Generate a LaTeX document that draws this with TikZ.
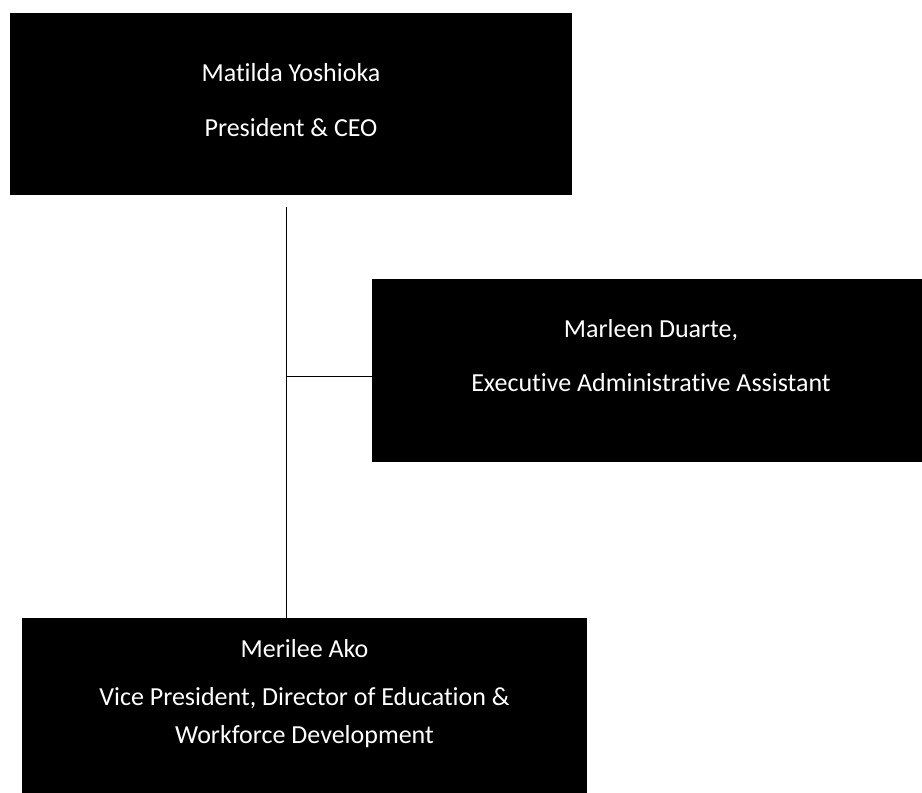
\documentclass[tikz,border=0pt]{standalone}
\usepackage{fontspec}
\setmainfont{Carlito}[Ligatures=NoCommon]
\usetikzlibrary{calc,positioning}

\tikzset{
    orgbox/.style={fill=black, inner sep=0pt},
    orgtext/.style={text=white, align=center, font=\fontsize{26}{38}\selectfont},
    link/.style={draw=black, line width=1pt}
}

\begin{document}
\begin{tikzpicture}[x=1pt,y=-1pt]

            \useasboundingbox (0,0) rectangle (922,793);

            % boxes
            \node[orgbox, minimum width=562pt, minimum height=182pt] (ceo) at (291,104) {};
            \node[orgbox, minimum width=550pt, minimum height=183pt] (asst) at (647,370.5) {};
            \node[orgbox, minimum width=565pt, minimum height=175pt] (vp) at (304.5,705.5) {};

            % texts
            \node[orgtext] (ceotext) at (291,100) {Matilda Yoshioka\\[17pt] President \& CEO};
            \node[orgtext] (assttext) at (651,356) {Marleen Duarte,\\[16pt] Executive Administrative Assistant};
            \node[orgtext] (vptext) at (304.5,694) {Merilee Ako\\[10pt] Vice President, Director of Education \&\\ Workforce Development};

            % connectors
            \coordinate (trunk) at (286,207);
            \coordinate (branch) at (286,376);
            \draw[link] (trunk) -- (trunk |- vp.north);
            \draw[link] (branch) -- (branch -| asst.west);
        \end{tikzpicture}
\end{document}
